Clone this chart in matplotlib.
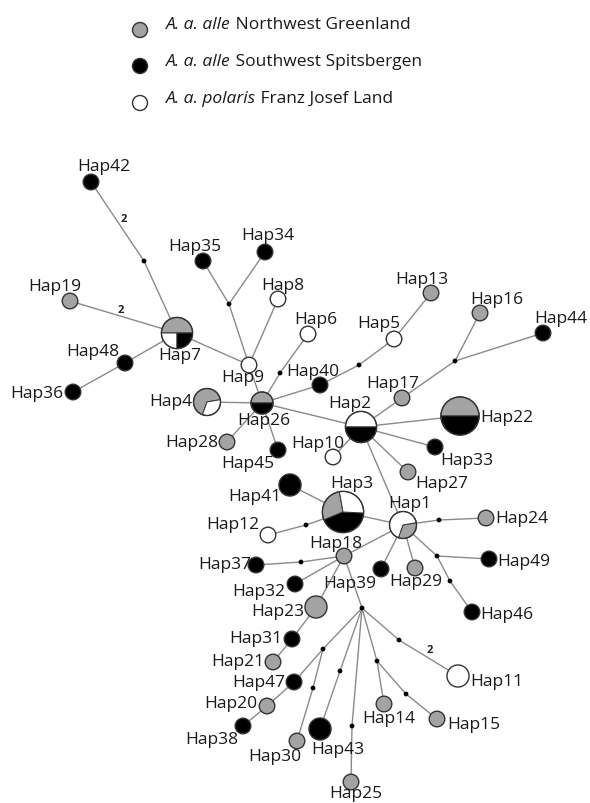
import matplotlib
matplotlib.use("Agg")
import matplotlib.pyplot as plt
from matplotlib.patches import Circle, Wedge
import numpy as np

# ---- data (pixel layout of the median-joining network, y down) ----
haps = ["Hap%d" % i for i in range(1, 50)]
hap_x = [403, 361, 343, 207, 394, 308, 177, 278, 249, 333, 458, 268, 431, 384, 437, 480, 402,
         344, 70, 267, 273, 460, 316, 486, 351, 262, 408, 227, 415, 297, 292, 295, 435, 265,
         203, 73, 256, 243, 381, 320, 290, 91, 320, 543, 278, 472, 294, 125, 489]
hap_y = [526, 428, 513, 403, 340, 335, 334, 300, 366, 458, 677, 536, 294, 705, 720, 314, 399,
         557, 302, 707, 663, 417, 608, 519, 783, 404, 473, 443, 569, 742, 640, 585, 448, 253,
         262, 393, 566, 727, 570, 386, 486, 183, 730, 334, 451, 613, 683, 364, 560]
# individuals per population: NW Greenland, SW Spitsbergen, Franz Josef Land
n_gl = [1, 0, 2, 2, 0, 0, 2, 0, 0, 0, 0, 0, 1, 1, 1, 1, 1, 1, 1, 1, 1, 3, 2, 1, 1, 1, 1, 1, 1, 1,
        0, 0, 0, 0, 0, 0, 0, 0, 0, 0, 0, 0, 0, 0, 0, 0, 0, 0, 0]
n_sp = [0, 2, 3, 0, 0, 0, 1, 0, 0, 0, 0, 0, 0, 0, 0, 0, 0, 0, 0, 0, 0, 3, 0, 0, 0, 1, 0, 0, 0, 0,
        1, 1, 1, 1, 1, 1, 1, 1, 1, 1, 2, 1, 2, 1, 1, 1, 1, 1, 1]
n_fj = [2, 2, 2, 1, 1, 1, 1, 1, 1, 1, 2, 1, 0, 0, 0, 0, 0, 0, 0, 0, 0, 0, 0, 0, 0, 0, 0, 0, 0, 0,
        0, 0, 0, 0, 0, 0, 0, 0, 0, 0, 0, 0, 0, 0, 0, 0, 0, 0, 0]

# median vectors (inferred, unsampled)
med = ["m%d" % i for i in range(1, 19)]
med_x = [144, 229, 280, 359, 455, 306, 439, 437, 450, 301, 362, 323, 313, 340, 352, 377, 406, 399]
med_y = [262, 305, 374, 366, 362, 526, 521, 557, 582, 563, 609, 650, 689, 672, 727, 662, 695, 641]

edges = [("Hap42", "m1"), ("m1", "Hap7"), ("Hap19", "Hap7"), ("Hap7", "Hap48"), ("Hap48", "Hap36"),
         ("Hap7", "Hap9"), ("Hap35", "m2"), ("m2", "Hap34"), ("m2", "Hap9"), ("Hap8", "Hap9"),
         ("Hap9", "Hap26"), ("Hap4", "Hap26"), ("Hap26", "Hap28"), ("Hap26", "Hap45"),
         ("Hap26", "m3"), ("m3", "Hap6"), ("Hap26", "Hap40"), ("Hap40", "m4"), ("m4", "Hap5"),
         ("Hap5", "Hap13"), ("Hap26", "Hap2"), ("Hap2", "Hap17"), ("Hap17", "m5"), ("m5", "Hap16"),
         ("m5", "Hap44"), ("Hap2", "Hap22"), ("Hap2", "Hap33"), ("Hap2", "Hap10"), ("Hap2", "Hap27"),
         ("Hap2", "Hap1"), ("Hap3", "Hap41"), ("Hap3", "Hap1"), ("Hap3", "m6"), ("m6", "Hap12"),
         ("Hap1", "m7"), ("m7", "Hap24"), ("Hap1", "Hap18"), ("Hap1", "Hap39"), ("Hap1", "Hap29"),
         ("Hap1", "m8"), ("m8", "Hap49"), ("m8", "m9"), ("m9", "Hap46"), ("Hap18", "m10"),
         ("m10", "Hap37"), ("Hap18", "Hap32"), ("Hap18", "Hap23"), ("Hap23", "Hap31"),
         ("Hap31", "Hap21"), ("Hap18", "m11"), ("m11", "m12"), ("m12", "Hap47"), ("Hap47", "Hap20"),
         ("Hap20", "Hap38"), ("m12", "m13"), ("m13", "Hap30"), ("m11", "m14"), ("m14", "Hap43"),
         ("m11", "m15"), ("m15", "Hap25"), ("m11", "m16"), ("m16", "Hap14"), ("m16", "m17"),
         ("m17", "Hap15"), ("m11", "m18"), ("m18", "Hap11")]
# edges with more than one mutation step: (edge index, steps, label x, label y)
steps = [(0, 2, 124, 219), (2, 2, 121, 311), (65, 2, 430, 651)]

# label centres
lab_x = [410, 350, 352, 171, 379, 316, 180, 283, 243, 318, 497, 233, 422, 389, 474, 497, 393,
         336, 55, 231, 238, 507, 278, 522, 356, 264, 442, 192, 416, 275, 256, 259, 467, 268,
         195, 37, 225, 212, 350, 313, 255, 104, 338, 561, 248, 507, 259, 93, 524]
lab_y = [504, 404, 484, 402, 324, 320, 356, 286, 378, 444, 682, 525, 280, 719, 725, 300, 384,
         544, 287, 704, 662, 418, 612, 519, 794, 421, 484, 443, 582, 757, 639, 592, 461, 236,
         247, 394, 565, 740, 584, 372, 497, 167, 750, 319, 464, 615, 683, 352, 562]

# pie slice order / start angle (screen degrees, counter-clockwise) for mixed haplotypes
pie_layout = {"Hap7": (0, "gl fj sp"), "Hap4": (10, "gl fj"), "Hap26": (0, "gl sp"),
              "Hap2": (0, "fj sp"), "Hap22": (0, "gl sp"), "Hap3": (100, "gl sp fj"),
              "Hap1": (250, "gl fj")}

pops = ["gl", "sp", "fj"]
pop_labels = [("A. a. alle", " Northwest Greenland"), ("A. a. alle", " Southwest Spitsbergen"),
              ("A. a. polaris", " Franz Josef Land")]

# ---- style ----
COL = {"gl": "#a3a3a3", "sp": "#000000", "fj": "#ffffff"}
EDGE = "#333333"
LINE = "#8a8a8a"
R0 = 7.8
FONT = "Open Sans"
FS = 12.5

fig = plt.figure(figsize=(5.9, 8.04), dpi=100)
ax = fig.add_axes([0, 0, 1, 1])
ax.set_xlim(0, 590)
ax.set_ylim(804, 0)
ax.axis("off")

pos = {h: (x, y) for h, x, y in zip(haps, hap_x, hap_y)}
pos.update({m: (x, y) for m, x, y in zip(med, med_x, med_y)})

for a, b in edges:
    (x0, y0), (x1, y1) = pos[a], pos[b]
    ax.plot([x0, x1], [y0, y1], color=LINE, lw=1.0, zorder=1, solid_capstyle="butt")
for i, k, lx, ly in steps:
    ax.text(lx, ly, str(k), ha="center", va="center", fontsize=8, fontweight="bold",
            family=FONT, color="#222222", zorder=3)

for i, h in enumerate(haps):
    cnt = {"gl": n_gl[i], "sp": n_sp[i], "fj": n_fj[i]}
    tot = sum(cnt.values())
    r = R0 * np.sqrt(tot)
    c = pos[h]
    if h in pie_layout:
        start, order = pie_layout[h]
        t = start
        for p in order.split():
            span = 360.0 * cnt[p] / tot
            # y axis is inverted: screen angle t -> data angle -t
            ax.add_patch(Wedge(c, r, -(t + span), -t, facecolor=COL[p], edgecolor=EDGE,
                               lw=0.7, zorder=2))
            t += span
        ax.add_patch(Circle(c, r, fill=False, edgecolor=EDGE, lw=1.0, zorder=2.5))
    else:
        p = max(cnt, key=cnt.get)
        ax.add_patch(Circle(c, r, facecolor=COL[p], edgecolor=EDGE, lw=1.0, zorder=2))
    ax.text(lab_x[i], lab_y[i], h, ha="center", va="center", fontsize=FS, family=FONT,
            color="#1a1a1a", zorder=3)

for m in med:
    ax.add_patch(Circle(pos[m], 2.4, facecolor="black", edgecolor="none", zorder=2))

# ---- legend ----
leg_y = [31, 67, 104]
base_y = [29, 66, 103]
for p, (sp, rest), my, by in zip(pops, pop_labels, leg_y, base_y):
    ax.add_patch(Circle((140, my), 7.5, facecolor=COL[p], edgecolor=EDGE, lw=1.0, zorder=2))
    t = ax.text(166, by, sp, ha="left", va="baseline", fontsize=FS, family=FONT,
                style="italic", color="#1a1a1a")
    fig.canvas.draw()
    bb = t.get_window_extent()
    x_end = ax.transData.inverted().transform((bb.x1, 0))[0]
    ax.text(x_end, by, rest, ha="left", va="baseline", fontsize=FS, family=FONT,
            color="#1a1a1a")

fig.savefig("out.png", dpi=100)
